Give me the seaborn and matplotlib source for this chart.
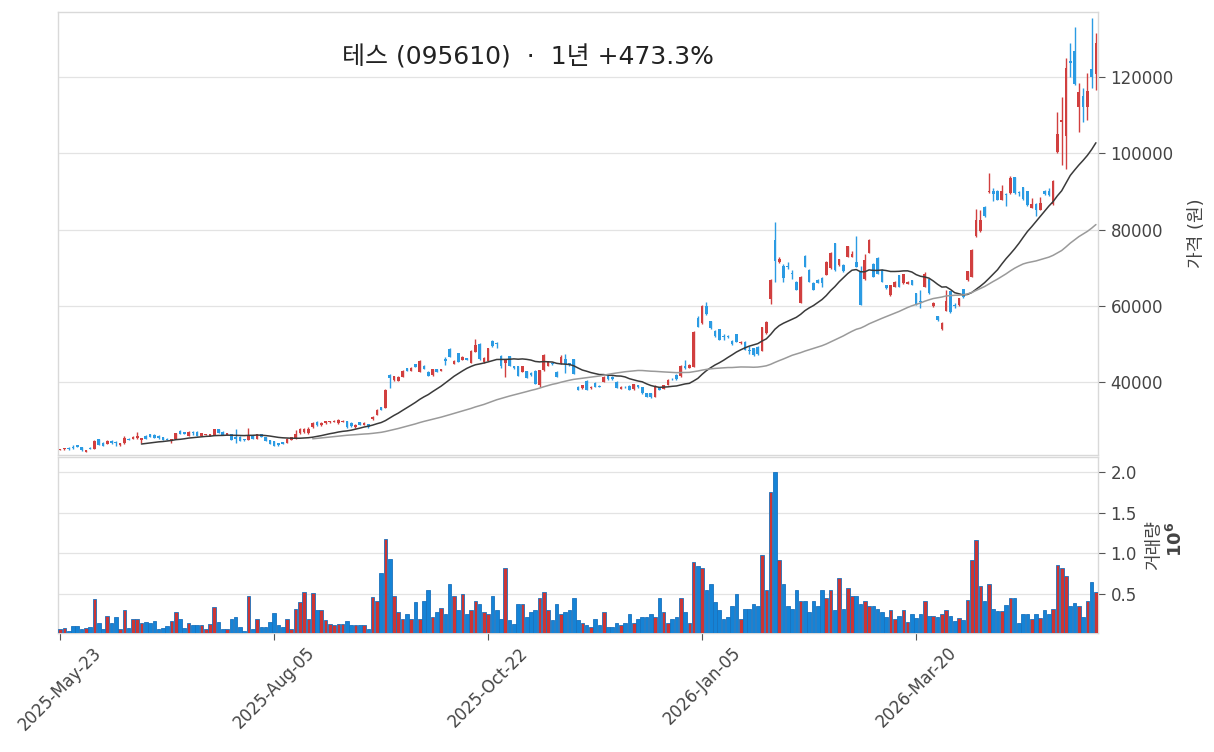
import numpy as np
import pandas as pd
import matplotlib
matplotlib.use("Agg")
import matplotlib.pyplot as plt
import seaborn as sns

# ---------------- data ----------------
opens = [
    22300, 22480, 22900, 22950, 23600, 23080, 21870, 22900, 22650, 25180,
    24130, 23870, 24580, 24400, 23530, 24220, 25270, 25270, 25350, 24920,
    26050, 26400, 26310, 25970, 25620, 25270, 24750, 25180, 27360, 27010,
    25970, 27010, 27100, 25970, 26230, 25970, 26140, 27710, 27100, 26140,
    26400, 25620, 25780, 25180, 24920, 26140, 25180, 26490, 25620, 24920,
    24570, 24130, 24400, 24220, 24920, 25360, 26700, 26900, 26700, 28200,
    29600, 28800, 29400, 29600, 29700, 29300, 29700, 29900, 29500, 28200,
    29600, 28900, 29000, 30300, 31500, 33470, 33300, 41940, 40630, 40450,
    41500, 43680, 43070, 44730, 42810, 44380, 42810, 41940, 43510, 43070,
    46040, 48740, 44820, 47610, 45870, 46300, 45170, 48050, 50050, 45260,
    45690, 50840, 50400, 47000, 44990, 46910, 44290, 44290, 42810, 42980,
    42500, 43070, 39320, 43250, 44290, 45000, 42810, 44990, 46200, 45000,
    46040, 38880, 38450, 40450, 38600, 39930, 39000, 40190, 41670, 41500,
    40190, 38360, 38900, 39060, 38180, 39200, 38710, 37130, 37130, 36260,
    38710, 38270, 39320, 41000, 41940, 41670, 44200, 43860, 44120, 56770,
    55460, 60000, 56070, 53460, 53890, 52200, 52200, 50840, 52670, 50220,
    50660, 48400, 48920, 49350, 48310, 52850, 61740, 77280, 71610, 70470,
    70400, 68700, 66370, 60870, 73090, 69430, 66110, 66810, 67240, 68120,
    69860, 76410, 70730, 70800, 72920, 72920, 71610, 69000, 67000, 73910,
    70960, 72700, 69570, 65480, 62870, 65040, 68090, 65910, 65900, 66780,
    63300, 61200, 65040, 66960, 60000, 57390, 53910, 58780, 63910, 60300,
    60260, 64350, 66780, 67650, 78260, 79650, 85910, 89830, 90260, 90260,
    87900, 89400, 89570, 93740, 89800, 91130, 90000, 85740, 86780, 85220,
    90260, 90200, 86610, 100260, 108090, 104610, 124180, 126790, 112180, 114960,
    112180, 122000, 120870,
]
highs = [
    22600, 22900, 23000, 23700, 23700, 23150, 22350, 23200, 24800, 25300,
    24300, 24800, 24900, 24660, 24100, 25900, 25400, 25900, 26930, 25500,
    26200, 26500, 26400, 26100, 25700, 25350, 25150, 26850, 27500, 27100,
    27200, 27360, 27200, 26750, 26600, 26600, 27900, 27800, 27200, 26850,
    26500, 27800, 25900, 25250, 27960, 26250, 26600, 26600, 25700, 25000,
    24650, 24200, 24500, 25350, 25700, 27540, 28000, 28100, 28200, 29700,
    29800, 29700, 29950, 30000, 30050, 30300, 30200, 30000, 29700, 29000,
    29700, 29600, 29100, 31100, 33000, 33600, 38200, 42200, 41800, 41600,
    43300, 43900, 44000, 44900, 45900, 44500, 42900, 43500, 43600, 43600,
    46700, 48900, 45800, 47700, 46900, 46500, 48400, 51270, 50200, 46600,
    49100, 51000, 50500, 47200, 46200, 47000, 44400, 44400, 44400, 43100,
    42700, 43200, 43300, 47500, 45700, 45200, 43000, 47200, 47400, 45200,
    46200, 39000, 39400, 40600, 39100, 40000, 39200, 41600, 41800, 41700,
    40300, 38950, 39000, 39200, 39700, 39300, 38800, 37200, 37200, 39200,
    38800, 39400, 40800, 41200, 42100, 44500, 45900, 44700, 53500, 57300,
    60200, 61000, 56200, 53600, 54000, 52800, 52400, 51000, 52800, 50800,
    50800, 49500, 49100, 49500, 54600, 56000, 67000, 81900, 72800, 71000,
    71500, 69400, 66500, 67800, 73300, 69600, 66200, 67200, 67500, 71700,
    74200, 76500, 72400, 71000, 75800, 74500, 78330, 70500, 73500, 77500,
    71200, 72900, 69700, 65600, 65600, 66500, 68200, 68500, 66500, 66900,
    63400, 64200, 68900, 67100, 61000, 57500, 55700, 64200, 64000, 60800,
    62100, 64500, 69300, 74900, 85500, 85200, 86300, 94800, 91000, 90400,
    91700, 89600, 94000, 93900, 90100, 91300, 90100, 88400, 86900, 88600,
    90400, 90900, 92900, 110800, 114800, 124900, 129000, 133000, 118300, 117200,
    121000, 135500, 131500,
]
lows = [
    22250, 22400, 22400, 22650, 23100, 22150, 21800, 22500, 22600, 23600,
    23400, 23800, 23900, 23350, 23450, 24000, 24800, 25200, 25300, 24050,
    25200, 25700, 25450, 25300, 24850, 24850, 24050, 25100, 26400, 26400,
    25900, 26300, 25900, 25900, 26150, 25900, 26100, 26700, 26250, 26100,
    24850, 24220, 24700, 24750, 24850, 25100, 25100, 25700, 24650, 23800,
    23300, 23450, 23800, 24150, 24850, 25200, 26500, 26800, 26600, 28100,
    28600, 28700, 29200, 29500, 29600, 29200, 29600, 28000, 28300, 28000,
    28800, 28800, 28100, 30200, 31400, 32700, 33200, 38450, 40500, 40300,
    41400, 42900, 42900, 44000, 42700, 43400, 41700, 41800, 42700, 42900,
    44500, 46600, 44700, 45300, 45800, 45900, 45000, 47900, 45900, 45100,
    45500, 49400, 48900, 43800, 41500, 44200, 43600, 41600, 42700, 41200,
    41700, 39500, 38900, 43100, 44200, 44500, 41400, 44900, 42500, 44400,
    42100, 37900, 38300, 37900, 38400, 38800, 38700, 40100, 40700, 40700,
    38500, 38200, 38500, 37900, 38000, 38500, 37000, 36100, 35900, 36100,
    37900, 38200, 39200, 40600, 40700, 41500, 43500, 43700, 44000, 54400,
    55300, 57700, 54000, 52000, 51000, 51000, 51700, 49900, 50500, 50100,
    48400, 47500, 47000, 47300, 48200, 52700, 60500, 66370, 71400, 66200,
    69800, 67100, 64100, 60700, 70200, 66300, 64100, 66000, 65000, 68000,
    69700, 69300, 70600, 69000, 72800, 72800, 70200, 60200, 66800, 73800,
    67500, 68400, 66200, 64500, 62700, 64900, 64900, 65800, 65800, 65400,
    60200, 59600, 64900, 63200, 59800, 56200, 53700, 58600, 58300, 59400,
    60100, 62100, 66600, 67500, 78100, 79500, 83300, 89700, 87500, 87700,
    87800, 86200, 89400, 89400, 88900, 87900, 86200, 85600, 83700, 85100,
    89200, 88800, 86500, 100100, 97000, 96000, 120000, 118000, 105600, 108300,
    108700, 117000, 116500,
]
closes = [
    22500, 22820, 22480, 22850, 23170, 22200, 22300, 22600, 24570, 23700,
    23440, 24660, 24220, 24200, 24050, 25440, 24920, 25790, 25970, 25440,
    25270, 25780, 25530, 25360, 24920, 24920, 25090, 26750, 26490, 26490,
    27100, 26800, 25970, 26670, 26490, 26490, 27800, 26750, 26320, 26750,
    24920, 25180, 24740, 24830, 26140, 25180, 26490, 25790, 24740, 23870,
    23350, 23530, 23870, 25270, 25620, 26490, 27800, 27850, 27900, 29500,
    28800, 29500, 29800, 29900, 29950, 30100, 30000, 28200, 28500, 28900,
    28900, 29500, 28200, 30950, 32770, 32770, 38010, 41240, 41670, 41500,
    43070, 43070, 43860, 44120, 45690, 43510, 41760, 43420, 42810, 43510,
    45690, 46740, 45600, 45430, 46740, 46000, 48310, 49790, 46040, 46480,
    48920, 49530, 50050, 44200, 46040, 44290, 43700, 41670, 44290, 41240,
    41900, 39580, 43250, 47170, 45600, 44700, 41500, 46740, 44800, 44600,
    42200, 38010, 39320, 38010, 38900, 38880, 38800, 41500, 40800, 40900,
    38620, 38880, 38700, 38010, 39580, 38700, 37130, 36260, 36090, 39060,
    38010, 39320, 40620, 40800, 40800, 44380, 43900, 44560, 53280, 54590,
    60000, 57910, 54150, 52140, 51100, 51800, 51900, 50050, 50660, 50660,
    48480, 48200, 47170, 47430, 54420, 55900, 66810, 71870, 72220, 67240,
    70200, 68500, 64190, 67680, 70300, 66370, 64190, 66110, 66110, 71610,
    73960, 69430, 72220, 69300, 75710, 73610, 70300, 60300, 72000, 77220,
    67650, 68520, 66350, 64610, 65480, 66350, 65040, 68350, 66300, 65480,
    60260, 61000, 68350, 63300, 60870, 56350, 55650, 61390, 58520, 60100,
    62000, 62260, 69130, 74780, 82440, 82610, 83480, 90260, 89390, 87830,
    90100, 89200, 93480, 89570, 89600, 88090, 86350, 86610, 85220, 86960,
    89390, 89000, 92870, 105050, 108700, 122440, 123740, 118090, 116090, 112180,
    116350, 120000, 129000,
]
volumes_m = [
    0.07, 0.08, 0.05, 0.11, 0.11, 0.07, 0.08, 0.10, 0.44, 0.14,
    0.07, 0.23, 0.14, 0.22, 0.07, 0.30, 0.08, 0.20, 0.19, 0.14,
    0.16, 0.15, 0.17, 0.07, 0.08, 0.11, 0.17, 0.28, 0.19, 0.08,
    0.14, 0.12, 0.12, 0.12, 0.07, 0.13, 0.34, 0.16, 0.07, 0.07,
    0.19, 0.22, 0.10, 0.05, 0.48, 0.07, 0.20, 0.10, 0.10, 0.16,
    0.27, 0.12, 0.10, 0.19, 0.07, 0.32, 0.40, 0.53, 0.20, 0.51,
    0.30, 0.30, 0.18, 0.13, 0.12, 0.13, 0.13, 0.17, 0.12, 0.12,
    0.12, 0.12, 0.07, 0.46, 0.42, 0.76, 1.18, 0.93, 0.48,
    0.28, 0.20, 0.25, 0.20, 0.40, 0.20, 0.42, 0.55, 0.22, 0.28,
    0.33, 0.25, 0.62, 0.48, 0.30, 0.50, 0.25, 0.30, 0.42, 0.38,
    0.28, 0.25, 0.48, 0.30, 0.20, 0.82, 0.18, 0.13, 0.38, 0.38,
    0.22, 0.28, 0.30, 0.45, 0.52, 0.30, 0.18, 0.38, 0.25, 0.28,
    0.30, 0.45, 0.18, 0.15, 0.12, 0.10, 0.20, 0.12, 0.28, 0.10,
    0.10, 0.15, 0.12, 0.15, 0.25, 0.15, 0.20, 0.22, 0.22, 0.25,
    0.22, 0.45, 0.28, 0.15, 0.20, 0.22, 0.45, 0.28, 0.15, 0.90,
    0.85, 0.82, 0.55, 0.62, 0.40, 0.30, 0.20, 0.22, 0.35, 0.50,
    0.20, 0.32, 0.32, 0.38, 0.35, 0.98, 0.55, 1.75, 2.00, 0.92,
    0.62, 0.35, 0.32, 0.55, 0.42, 0.42, 0.28, 0.42, 0.35, 0.55,
    0.45, 0.55, 0.30, 0.70, 0.32, 0.58, 0.48, 0.48, 0.38, 0.42,
    0.35, 0.35, 0.32, 0.28, 0.22, 0.30, 0.20,
    0.23, 0.30, 0.16, 0.25, 0.21, 0.25, 0.42, 0.23, 0.23, 0.22,
    0.25, 0.30, 0.23, 0.17, 0.21, 0.18, 0.43, 0.92, 1.16, 0.60,
    0.42, 0.62, 0.32, 0.29, 0.29, 0.37, 0.45, 0.45, 0.15, 0.26,
    0.25, 0.20, 0.25, 0.21, 0.30, 0.25, 0.32, 0.86, 0.82, 0.72,
    0.36, 0.39, 0.36, 0.22, 0.42, 0.65, 0.52,
]
krx_holidays = ["2025-06-03", "2025-06-06", "2025-08-15", "2025-10-03", "2025-10-06",
                "2025-10-07", "2025-10-08", "2025-10-09", "2025-12-25", "2025-12-31",
                "2026-01-01", "2026-02-16", "2026-02-17", "2026-02-18", "2026-03-02",
                "2026-05-01", "2026-05-05"]
title_name = "테스 (095610)"
ma_windows = [20, 60]
tick_step = 50

n = len(closes)

dates = pd.bdate_range("2025-05-23", periods=n, freq="C", holidays=krx_holidays)
df = pd.DataFrame({"idx": np.arange(n), "open": opens, "high": highs, "low": lows,
                   "close": closes, "vol": volumes_m})
df["up"] = df["close"] >= df["open"]
for w in ma_windows:
    df[f"ma{w}"] = df["close"].rolling(w).mean()

# ---------------- style ----------------
sns.set_theme(style="whitegrid")
plt.rcParams["font.family"] = ["DejaVu Sans", "Noto Sans CJK KR"]
UP_C = "#d13f3f"
DN_C = "#2b9be3"
VUP_C = "#cc3535"
VDN_C = "#1583d6"
GRID_C = "#e3e3e3"
SPINE_C = "#d9d9d9"
TXT_C = "#444444"

fig = plt.figure(figsize=(12.14, 7.52), dpi=100)
ax1 = fig.add_axes([0.0478, 0.395, 0.8567, 0.589])
ax2 = fig.add_axes([0.0478, 0.1585, 0.8567, 0.2335], sharex=ax1)

# candles
cols = np.where(df["up"], UP_C, DN_C)
ax1.vlines(df["idx"], df["low"], df["high"], colors=cols, linewidth=1.0, zorder=2)
body_bottom = np.minimum(df["open"], df["close"])
body_h = np.maximum(np.abs(df["close"] - df["open"]), 150)
ax1.bar(df["idx"], body_h, bottom=body_bottom, width=0.62, color=cols, linewidth=0, zorder=3)

# moving averages
sns.lineplot(data=df, x="idx", y="ma20", ax=ax1, color="#3a3a3a", linewidth=1.1, zorder=4)
sns.lineplot(data=df, x="idx", y="ma60", ax=ax1, color="#9a9a9a", linewidth=1.1, zorder=4)

# volume
vcols = np.where(df["up"], VUP_C, VDN_C)
ax2.bar(df["idx"], df["vol"], width=0.85, color=vcols, edgecolor="#1a72bd", linewidth=0.6, zorder=3)

# axes cosmetics
for ax in (ax1, ax2):
    ax.set_facecolor("white")
    for s in ax.spines.values():
        s.set_color(SPINE_C)
        s.set_linewidth(1.0)
    ax.grid(False)
    ax.yaxis.grid(True, color=GRID_C, linewidth=0.9)
    ax.yaxis.tick_right()
    ax.yaxis.set_label_position("right")
    ax.tick_params(axis="y", which="both", right=True, left=False, length=5, width=0.8,
                   color="#555555", labelsize=12, labelcolor=TXT_C, pad=4)
    ax.set_xlabel("")

ax1.set_xlim(-0.5, n - 0.5)
ax1.set_ylim(21000, 137000)
ax1.set_yticks([40000, 60000, 80000, 100000, 120000])
ax1.set_yticklabels([f"{v:d}" for v in [40000, 60000, 80000, 100000, 120000]])
ax1.set_ylabel("가격 (원)", fontsize=13, color=TXT_C, labelpad=10)
ax1.tick_params(axis="x", bottom=False, labelbottom=False)

ax2.set_ylim(0.025, 2.18)
ax2.set_yticks([0.5, 1.0, 1.5, 2.0])
ax2.set_yticklabels(["0.5", "1.0", "1.5", "2.0"])
ax2.set_ylabel("거래량", fontsize=13, color=TXT_C, labelpad=6)
ax2.text(1.075, 0.53, r"$\mathbf{10^6}$", transform=ax2.transAxes, rotation=90,
         fontsize=13, color=TXT_C, ha="center", va="center")

tick_pos = list(range(0, n, tick_step))
ax2.set_xticks(tick_pos)
ax2.set_xticklabels([dates[i].strftime("%Y-%b-%d") for i in tick_pos], rotation=45,
                    fontsize=12, color=TXT_C)
ax2.tick_params(axis="x", bottom=True, length=5, width=0.8, color="#555555", pad=3)

pct = (closes[-1] / closes[0] - 1) * 100
ax1.text(0.452, 0.898, f"{title_name}  ·  1년 {pct:+.1f}%", transform=ax1.transAxes,
         ha="center", va="center", fontsize=18, color="#222222")

fig.savefig("out.png", dpi=100)
